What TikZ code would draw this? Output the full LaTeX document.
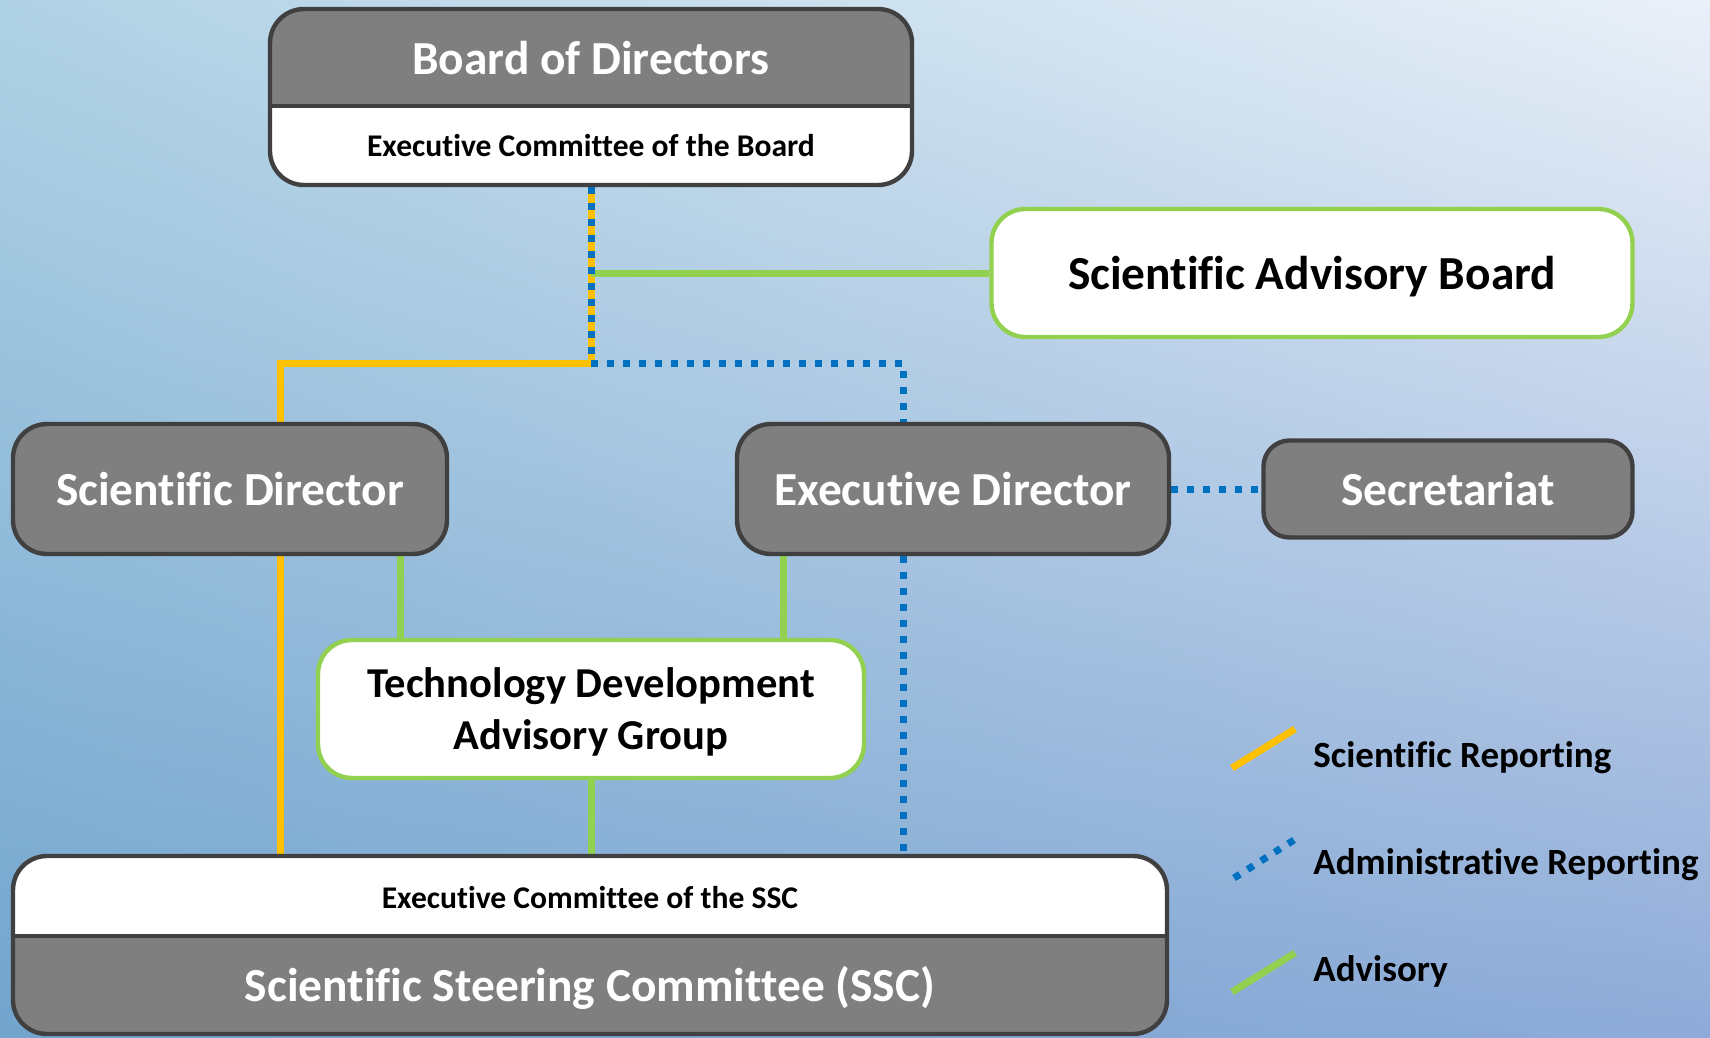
\documentclass[tikz,border=0pt]{standalone}
\usepackage{fontspec}
\setmainfont[Ligatures=NoCommon]{Carlito}
\usepackage{xcolor}
\definecolor{orgdark}{RGB}{64,64,64}
\definecolor{orggray}{RGB}{127,127,127}
\definecolor{orgyellow}{RGB}{255,192,0}
\definecolor{orgblue}{RGB}{0,112,192}
\definecolor{orggreen}{RGB}{146,208,80}
\definecolor{bgtl}{RGB}{176,210,229}
\definecolor{bgtr}{RGB}{234,240,248}
\definecolor{bgbl}{RGB}{114,164,205}
\definecolor{bgbr}{RGB}{142,171,216}
\usetikzlibrary{backgrounds,calc,shadings}

\begin{document}
\begin{tikzpicture}[x=0.5pt, y=-0.5pt,
    bigfont/.style={font=\fontsize{23.7}{26}\selectfont\bfseries},
    smallfont/.style={font=\fontsize{15.8}{19}\selectfont\bfseries},
    legendfont/.style={font=\fontsize{18.5}{22}\selectfont\bfseries},
    graybox/.style={rectangle, draw=orgdark, line width=2.2pt, fill=orggray, rounded corners=17pt, inner sep=0pt, text=white, bigfont},
    whitebox/.style={rectangle, draw=orggreen, line width=2.2pt, fill=white, rounded corners=17pt, inner sep=0pt, bigfont, align=center},
    sci/.style={orgyellow, line width=3.5pt},
    admin/.style={orgblue, line width=3.5pt, dash pattern=on 3.5pt off 4.5pt},
    adv/.style={orggreen, line width=3.5pt}]
    \useasboundingbox (0,0) rectangle (1710,1038);

    % Board of Directors (gray top, white bottom)
    \node[graybox, fill=white, minimum width=321pt, minimum height=88pt,
        path picture={
            \fill[orggray, sharp corners] (path picture bounding box.north west) rectangle ([yshift=-48.5pt]path picture bounding box.north east);
            \draw[orgdark, line width=2.2pt, sharp corners] ([yshift=-48.5pt]path picture bounding box.north west) -- ([yshift=-48.5pt]path picture bounding box.north east);
        }] (bod) at (591,97) {};
    \node[bigfont, text=white] (bodname) at (591,58) {Board of Directors};
    \node[smallfont] (bodexec) at (591,146) {Executive Committee of the Board};

    % Advisory board
    \node[whitebox, text depth=0pt, minimum width=320.5pt, minimum height=64pt] (sab) at (1312,273) {Scientific Advisory Board};

    % Directors
    \node[graybox, minimum width=217pt, minimum height=65pt] (sd) at (230,489) {Scientific Director};
    \node[graybox, minimum width=216pt, minimum height=65pt] (ed) at (953,489) {Executive Director};
    \node[graybox, rounded corners=13pt, minimum width=184.5pt, minimum height=48.5pt] (sec) at (1448,489) {Secretariat};

    % Technology group
    \node[whitebox, font=\fontsize{21.3}{26}\selectfont\bfseries, text depth=0pt, minimum width=273pt, minimum height=69pt] (tdag) at (591,709) {Technology Development\\Advisory Group};

    % SSC (white top, gray bottom)
    \node[graybox, fill=white, minimum width=577pt, minimum height=89pt,
        path picture={
            \fill[orggray, sharp corners] (path picture bounding box.south west) rectangle ([yshift=-40pt]path picture bounding box.north east);
            \draw[orgdark, line width=2.2pt, sharp corners] ([yshift=-40pt]path picture bounding box.north west) -- ([yshift=-40pt]path picture bounding box.north east);
        }] (ssc) at (590,945) {};
    \node[smallfont] (sscexec) at (590,898) {Executive Committee of the SSC};
    \node[bigfont, text=white] (sscname) at (590,988) {Scientific Steering Committee (SSC)};

    % Legend
    \node[legendfont, anchor=west, inner sep=0pt] (lgsci) at (1313,758) {Scientific Reporting};
    \node[legendfont, anchor=west, inner sep=0pt] (lgadmin) at (1313,865) {Administrative Reporting};
    \node[legendfont, anchor=west, inner sep=0pt] (lgadv) at (1313,971) {Advisory};

    \coordinate (hub) at (591,363);

    \begin{scope}[on background layer]
        \shade[upper left=bgtl, upper right=bgtr, lower left=bgbl, lower right=bgbr] (0,0) rectangle (1710,1038);

        % Scientific reporting
        \draw[sci] (bod.south) -- (hub) -| ([xshift=25pt]sd.north);
        \draw[sci] ([xshift=25pt]sd.south) -- ([xshift=25pt]sd.south |- ssc.north);

        % Advisory
        \draw[adv] (bod.south |- sab.west) -- (sab.west);
        \draw[adv] ([xshift=85pt]sd.south) -- ([xshift=85pt]sd.south |- tdag.north);
        \draw[adv] ([xshift=-85pt]ed.south) -- ([xshift=-85pt]ed.south |- tdag.north);
        \draw[adv] (tdag.south) -- (tdag.south |- ssc.north);

        % Administrative reporting
        \draw[admin] (bod.south) -- (hub) -| ([xshift=-25pt]ed.north);
        \draw[admin] ([xshift=-25pt]ed.south) -- ([xshift=-25pt]ed.south |- ssc.north);
        \draw[admin] (ed.east) -- (sec.west);

        % Legend samples
        \draw[sci] (1232,768) -- (1295,729);
        \draw[admin] (1234,878) -- (1294,840);
        \draw[adv] (1232,992) -- (1295,953);
    \end{scope}
\end{tikzpicture}
\end{document}
